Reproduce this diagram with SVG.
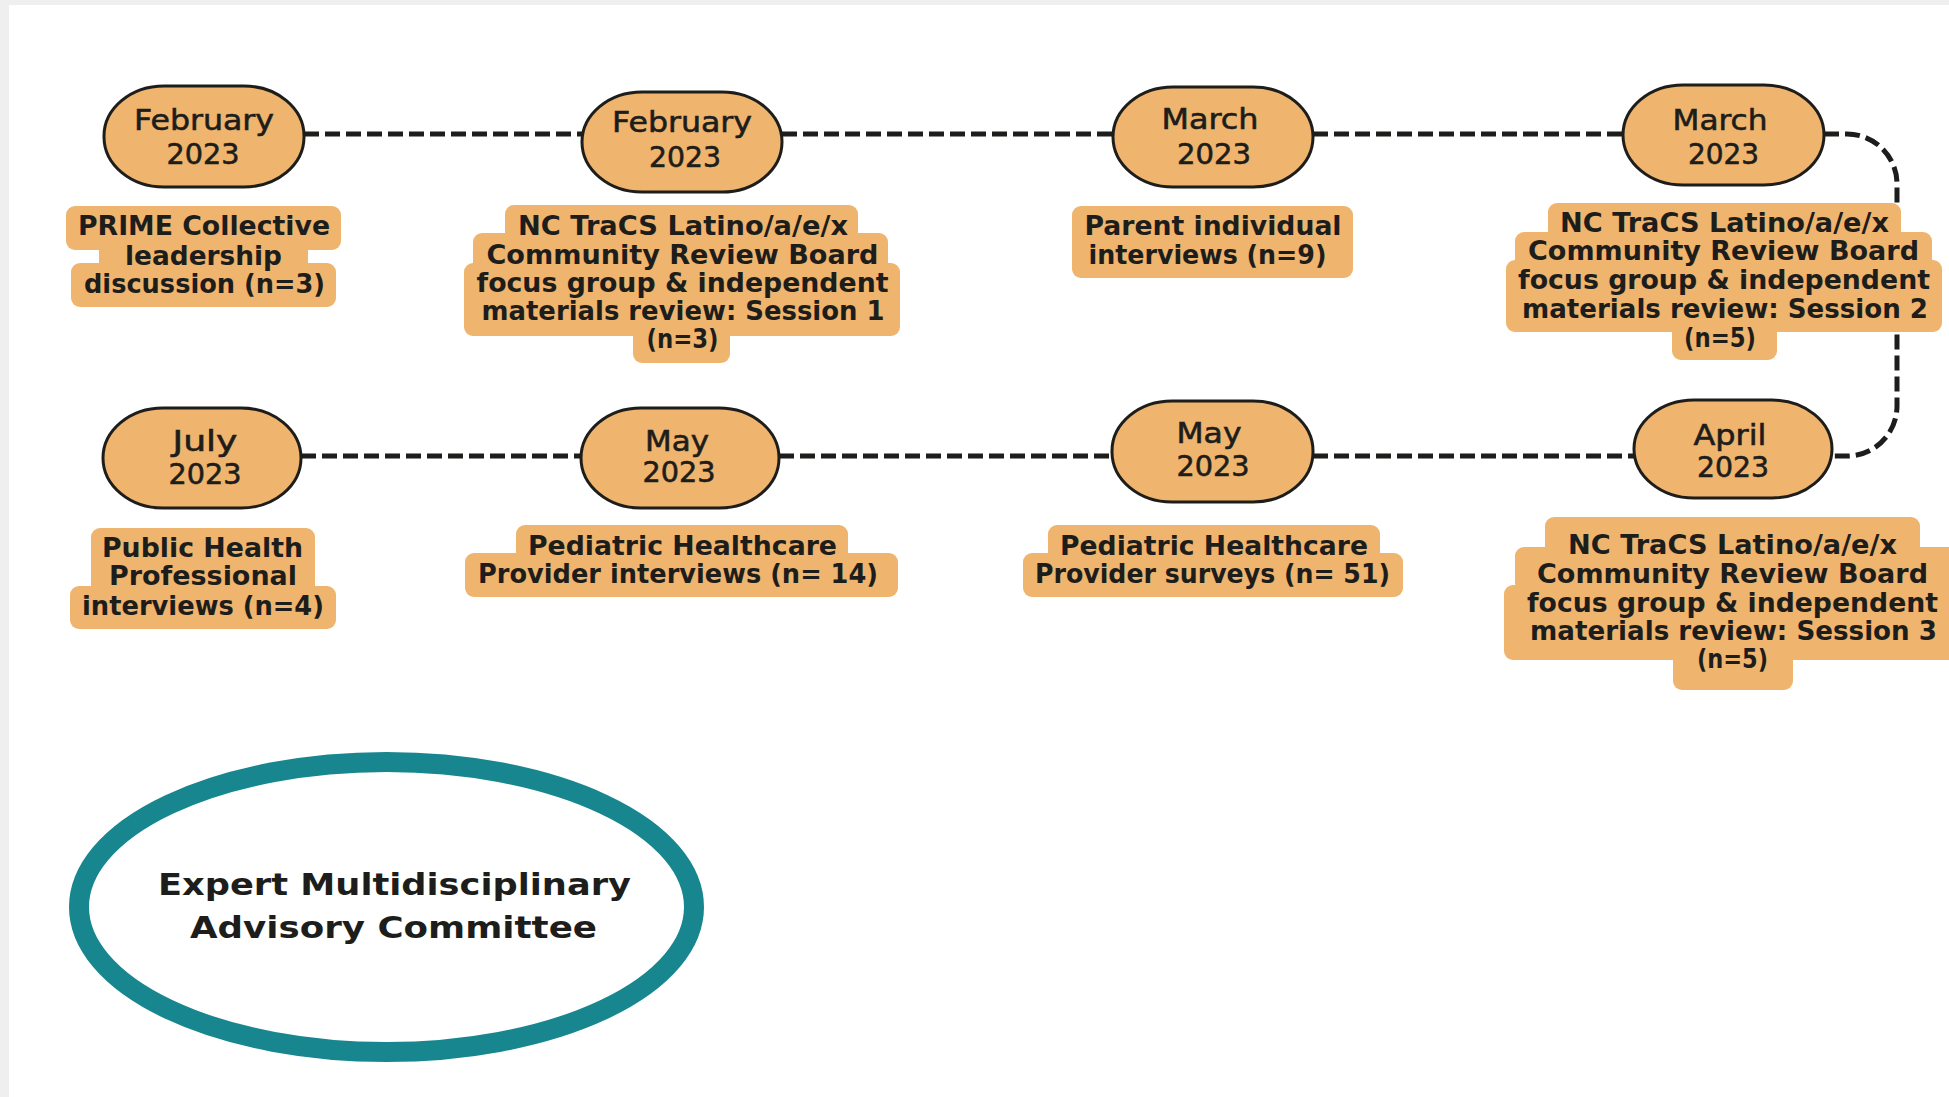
<svg xmlns="http://www.w3.org/2000/svg" width="1949" height="1097" viewBox="0 0 1949 1097">
<style>
.nd{fill:#EFB46D;stroke:#1d1d1b;stroke-width:3}
.nt{font-family:"DejaVu Sans",sans-serif;font-size:29px;fill:#1d1d1b;stroke:#1d1d1b;stroke-width:0.6;text-anchor:middle}
.lb{fill:#EFB46D}
.lt{font-family:"DejaVu Sans",sans-serif;font-weight:bold;font-size:26px;fill:#1d1d1b;text-anchor:middle}
.cn{fill:none;stroke:#1d1d1b;stroke-width:5;stroke-dasharray:15 6}
.et{font-family:"DejaVu Sans",sans-serif;font-weight:bold;font-size:31px;fill:#1d1d1b;text-anchor:middle}
</style>
<rect x="0" y="0" width="1949" height="1097" fill="#efefef"/>
<rect x="9" y="5" width="1940" height="1092" fill="#ffffff"/>

<g id="connectors">
<path class="cn" d="M304 134 H582"/>
<path class="cn" d="M782 134 H1113"/>
<path class="cn" d="M1313 134 H1623"/>
<path class="cn" d="M1824 134 H1847 A50 50 0 0 1 1897 184 V406 A50 50 0 0 1 1847 456 H1832"/>
<path class="cn" d="M301 456 H581"/>
<path class="cn" d="M779 456 H1112"/>
<path class="cn" d="M1313 456 H1634"/>
</g>

<g id="node-feb-2023-a">
<rect class="nd" x="104" y="86" width="200" height="101" rx="60" ry="50"/>
<text class="nt" x="204" y="130" textLength="140" lengthAdjust="spacingAndGlyphs">February</text>
<text class="nt" x="203" y="164" textLength="73" lengthAdjust="spacingAndGlyphs">2023</text>
</g>
<g id="label-prime">
<rect class="lb" x="66" y="206" width="275" height="44" rx="9"/>
<rect class="lb" x="99" y="236" width="209" height="44" rx="9"/>
<rect class="lb" x="71" y="263" width="265" height="44" rx="9"/>
<text class="lt" x="204" y="235" textLength="252" lengthAdjust="spacingAndGlyphs">PRIME Collective</text>
<text class="lt" x="203.5" y="265" textLength="157" lengthAdjust="spacingAndGlyphs">leadership</text>
<text class="lt" x="204.5" y="293" textLength="241" lengthAdjust="spacingAndGlyphs">discussion (n=3)</text>
</g>

<g id="node-feb-2023-b">
<rect class="nd" x="582" y="92" width="200" height="100" rx="60" ry="50"/>
<text class="nt" x="682" y="132" textLength="140" lengthAdjust="spacingAndGlyphs">February</text>
<text class="nt" x="685" y="167" textLength="72" lengthAdjust="spacingAndGlyphs">2023</text>
</g>
<g id="label-session1">
<rect class="lb" x="505" y="205" width="353" height="45" rx="9"/>
<rect class="lb" x="473" y="233" width="415" height="45" rx="9"/>
<rect class="lb" x="464" y="263" width="436" height="73" rx="9"/>
<rect class="lb" x="633" y="319" width="97" height="44" rx="9"/>
<text class="lt" x="683" y="235" textLength="330" lengthAdjust="spacingAndGlyphs">NC TraCS Latino/a/e/x</text>
<text class="lt" x="682.5" y="264" textLength="392" lengthAdjust="spacingAndGlyphs">Community Review Board</text>
<text class="lt" x="682.5" y="292" textLength="412" lengthAdjust="spacingAndGlyphs">focus group &amp; independent</text>
<text class="lt" x="683" y="320" textLength="403" lengthAdjust="spacingAndGlyphs">materials review: Session 1</text>
<text class="lt" x="682.5" y="348" textLength="72" lengthAdjust="spacingAndGlyphs">(n=3)</text>
</g>

<g id="node-mar-2023-a">
<rect class="nd" x="1113" y="87" width="200" height="100" rx="60" ry="50"/>
<text class="nt" x="1210" y="129" textLength="97" lengthAdjust="spacingAndGlyphs">March</text>
<text class="nt" x="1214" y="164" textLength="74" lengthAdjust="spacingAndGlyphs">2023</text>
</g>
<g id="label-parent">
<rect class="lb" x="1072" y="206" width="281" height="72" rx="9"/>
<text class="lt" x="1213" y="235" textLength="257" lengthAdjust="spacingAndGlyphs">Parent individual</text>
<text class="lt" x="1207.5" y="264" textLength="238" lengthAdjust="spacingAndGlyphs">interviews (n=9)</text>
</g>

<g id="node-mar-2023-b">
<rect class="nd" x="1623" y="85" width="201" height="100" rx="60" ry="50"/>
<text class="nt" x="1720" y="130" textLength="95" lengthAdjust="spacingAndGlyphs">March</text>
<text class="nt" x="1723.5" y="164" textLength="71" lengthAdjust="spacingAndGlyphs">2023</text>
</g>
<g id="label-session2">
<rect class="lb" x="1548" y="203" width="353" height="45" rx="9"/>
<rect class="lb" x="1515" y="232" width="417" height="45" rx="9"/>
<rect class="lb" x="1506" y="260" width="436" height="72" rx="9"/>
<rect class="lb" x="1672" y="318" width="105" height="42" rx="9"/>
<text class="lt" x="1724.5" y="232" textLength="329" lengthAdjust="spacingAndGlyphs">NC TraCS Latino/a/e/x</text>
<text class="lt" x="1723.5" y="260" textLength="391" lengthAdjust="spacingAndGlyphs">Community Review Board</text>
<text class="lt" x="1724" y="289" textLength="412" lengthAdjust="spacingAndGlyphs">focus group &amp; independent</text>
<text class="lt" x="1725" y="318" textLength="406" lengthAdjust="spacingAndGlyphs">materials review: Session 2</text>
<text class="lt" x="1720" y="347" textLength="72" lengthAdjust="spacingAndGlyphs">(n=5)</text>
</g>

<g id="node-jul-2023">
<rect class="nd" x="103" y="408" width="198" height="100" rx="60" ry="50"/>
<text class="nt" x="205" y="451" textLength="65" lengthAdjust="spacingAndGlyphs">July</text>
<text class="nt" x="205" y="484" textLength="73" lengthAdjust="spacingAndGlyphs">2023</text>
</g>
<g id="label-public-health">
<rect class="lb" x="91" y="528" width="224" height="72" rx="9"/>
<rect class="lb" x="70" y="586" width="266" height="43" rx="9"/>
<text class="lt" x="202.5" y="557" textLength="201" lengthAdjust="spacingAndGlyphs">Public Health</text>
<text class="lt" x="203" y="585" textLength="188" lengthAdjust="spacingAndGlyphs">Professional</text>
<text class="lt" x="203" y="615" textLength="242" lengthAdjust="spacingAndGlyphs">interviews (n=4)</text>
</g>

<g id="node-may-2023-a">
<rect class="nd" x="581" y="408" width="198" height="100" rx="60" ry="50"/>
<text class="nt" x="677" y="451" textLength="64" lengthAdjust="spacingAndGlyphs">May</text>
<text class="nt" x="679" y="482" textLength="73" lengthAdjust="spacingAndGlyphs">2023</text>
</g>
<g id="label-provider-interviews">
<rect class="lb" x="516" y="525" width="332" height="45" rx="9"/>
<rect class="lb" x="465" y="553" width="433" height="44" rx="9"/>
<text class="lt" x="682.5" y="555" textLength="309" lengthAdjust="spacingAndGlyphs">Pediatric Healthcare</text>
<text class="lt" x="678" y="583" textLength="400" lengthAdjust="spacingAndGlyphs">Provider interviews (n= 14)</text>
</g>

<g id="node-may-2023-b">
<rect class="nd" x="1112" y="401" width="201" height="101" rx="60" ry="50"/>
<text class="nt" x="1209" y="443" textLength="65" lengthAdjust="spacingAndGlyphs">May</text>
<text class="nt" x="1213" y="476" textLength="73" lengthAdjust="spacingAndGlyphs">2023</text>
</g>
<g id="label-provider-surveys">
<rect class="lb" x="1048" y="525" width="332" height="45" rx="9"/>
<rect class="lb" x="1023" y="553" width="380" height="44" rx="9"/>
<text class="lt" x="1214" y="555" textLength="308" lengthAdjust="spacingAndGlyphs">Pediatric Healthcare</text>
<text class="lt" x="1212.5" y="583" textLength="355" lengthAdjust="spacingAndGlyphs">Provider surveys (n= 51)</text>
</g>

<g id="node-apr-2023">
<rect class="nd" x="1634" y="400" width="198" height="98" rx="60" ry="49"/>
<text class="nt" x="1730" y="445" textLength="73" lengthAdjust="spacingAndGlyphs">April</text>
<text class="nt" x="1733" y="477" textLength="72" lengthAdjust="spacingAndGlyphs">2023</text>
</g>
<g id="label-session3">
<rect class="lb" x="1545" y="517" width="375" height="45" rx="9"/>
<rect class="lb" x="1515" y="547" width="445" height="45" rx="9"/>
<rect class="lb" x="1504" y="585" width="456" height="75" rx="9"/>
<rect class="lb" x="1673" y="640" width="120" height="50" rx="9"/>
<text class="lt" x="1732.5" y="554" textLength="329" lengthAdjust="spacingAndGlyphs">NC TraCS Latino/a/e/x</text>
<text class="lt" x="1732.5" y="583" textLength="391" lengthAdjust="spacingAndGlyphs">Community Review Board</text>
<text class="lt" x="1732.5" y="612" textLength="411" lengthAdjust="spacingAndGlyphs">focus group &amp; independent</text>
<text class="lt" x="1733.5" y="640" textLength="407" lengthAdjust="spacingAndGlyphs">materials review: Session 3</text>
<text class="lt" x="1732.5" y="668" textLength="71" lengthAdjust="spacingAndGlyphs">(n=5)</text>
</g>

<g id="node-advisory-committee">
<ellipse cx="386.5" cy="907" rx="307.5" ry="145" fill="#ffffff" stroke="#17868E" stroke-width="20"/>
<text class="et" x="394.5" y="895" textLength="473" lengthAdjust="spacingAndGlyphs">Expert Multidisciplinary</text>
<text class="et" x="393.5" y="938" textLength="407" lengthAdjust="spacingAndGlyphs">Advisory Committee</text>
</g>
</svg>
